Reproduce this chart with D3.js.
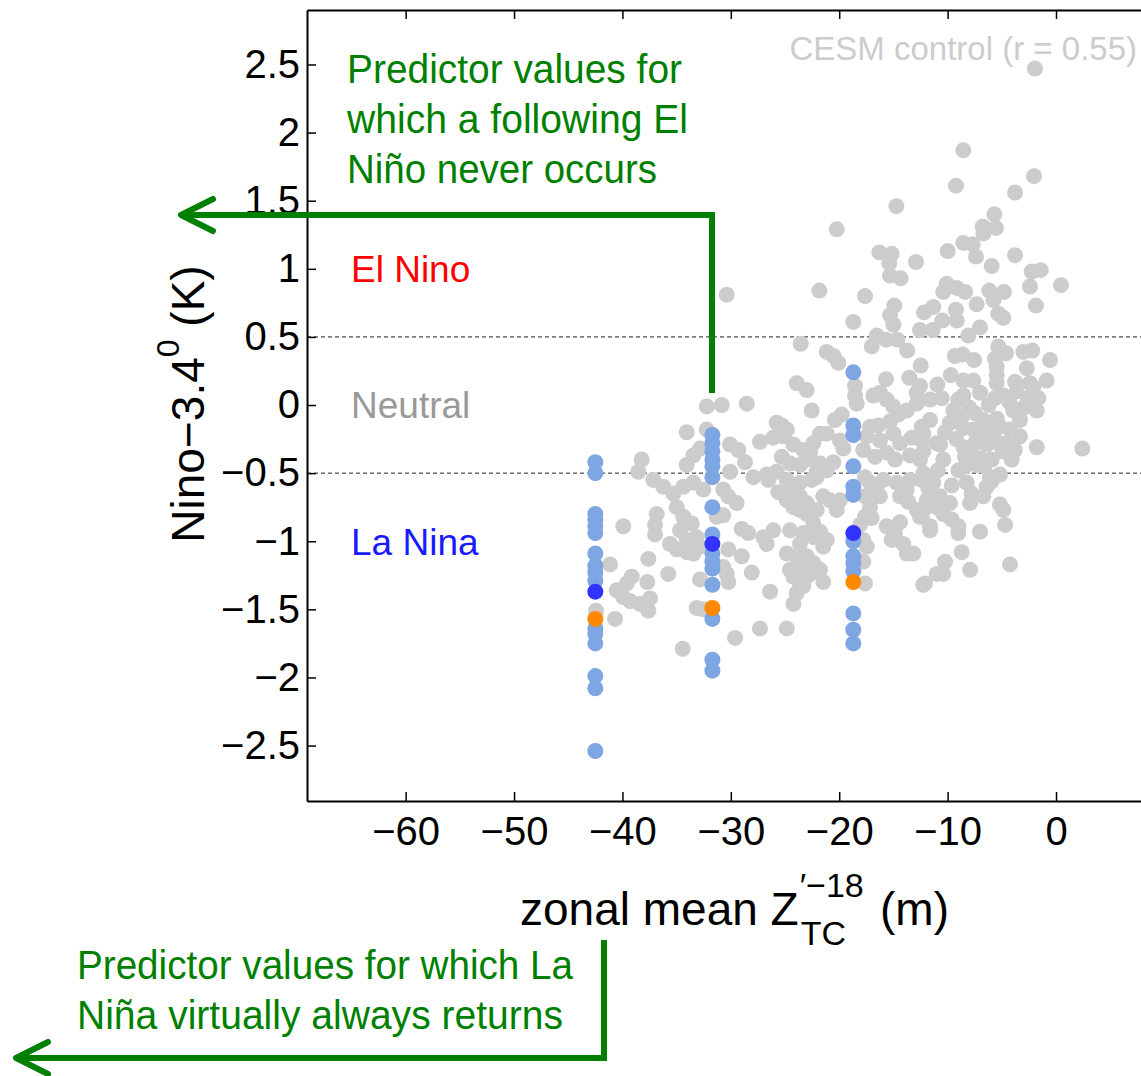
<!DOCTYPE html>
<html>
<head>
<meta charset="utf-8">
<script src="https://cdn.jsdelivr.net/npm/d3@7"></script>
<style>
  html, body { margin: 0; padding: 0; background: #fff; }
  svg { display: block; }
  text { font-family: "Liberation Sans", Arial, Helvetica, sans-serif; }
</style>
</head>
<body>
<svg id="chart" width="1141" height="1076"></svg>
<script>
// ---------------- DATA ----------------
const xTicks = [-60, -50, -40, -30, -20, -10, 0];
const yTicks = [-2.5, -2, -1.5, -1, -0.5, 0, 0.5, 1, 1.5, 2, 2.5];
const thresholds = [0.5, -0.5];

// CESM control run: [zonal mean Z'TC (m), Nino-3.4 (K)]
const controlPoints = [
  [-8.55,1.87],[-2.03,1.68],[-9.23,1.61],[-3.78,1.56],[-14.73,1.46],[-20.23,1.29],[-5.69,1.40],[-6.76,1.31],[-5.54,1.30],[-6.70,1.26],
  [-8.55,1.19],[-7.68,1.18],[-9.99,1.13],[-7.38,1.09],[-3.78,1.10],[-16.30,1.12],[-15.16,1.11],[-15.38,1.04],[-12.92,1.05],[-5.93,1.02],
  [-15.31,0.95],[-14.33,0.93],[-2.24,0.98],[-1.41,0.99],[-2.40,0.87],[0.46,0.88],[-21.83,0.84],[-17.62,0.80],[-10.08,0.89],[-9.16,0.86],
  [-8.39,0.83],[-6.15,0.84],[-4.80,0.83],[-5.78,0.77],[-7.32,0.74],[-14.92,0.73],[-15.31,0.66],[-18.70,0.61],[-11.32,0.72],[-12.18,0.68],
  [-9.23,0.70],[-10.49,0.62],[-9.16,0.62],[-5.32,0.67],[-4.86,0.64],[-1.85,0.73],[-15.01,0.59],[-12.55,0.55],[-11.37,0.55],[-7.01,0.57],
  [-8.09,0.51],[-16.54,0.51],[-15.68,0.48],[-14.64,0.48],[-23.55,0.45],[-17.00,0.43],[-13.72,0.40],[-21.15,0.39],[-20.54,0.36],[-20.08,0.31],
  [-12.48,0.29],[-5.32,0.43],[-4.61,0.38],[-3.01,0.39],[-2.19,0.40],[-0.55,0.33],[-8.61,0.37],[-9.32,0.36],[-7.56,0.33],[-5.63,0.34],
  [-5.47,0.28],[-2.70,0.27],[-15.68,0.19],[-13.53,0.20],[-10.95,0.15],[-9.71,0.22],[-8.55,0.18],[-7.63,0.18],[-0.86,0.18],[-23.92,0.16],
  [-23.00,0.11],[-18.54,0.14],[-12.55,0.14],[-5.47,0.16],[-3.78,0.17],[-2.09,0.13],[-1.94,2.47],[-30.38,0.81],[-10.40,0.83],
  [-16.24,0.09],[-16.85,0.07],[-15.62,0.04],[-15.01,-0.01],[-12.85,0.09],[-18.54,0.07],[-18.39,0.01],
  [-5.47,0.22],[-2.40,0.16],[-1.63,0.05],[-11.62,0.04],[-10.54,0.05],[-9.01,0.04],[-8.55,0.07],[-7.01,0.09],[-5.63,0.05],[-4.86,0.07],
  [-3.63,0.10],[-1.78,-0.04],[-9.47,-0.04],[-8.70,-0.09],[-11.62,-0.11],[-7.47,-0.06],[-6.71,-0.11],[-5.47,-0.10],[-3.94,-0.04],[-3.32,-0.11],
  [-12.39,-0.16],[-10.24,-0.20],[-8.55,-0.17],[-7.63,-0.18],[-6.39,-0.18],[-5.17,-0.16],[-4.24,-0.18],[-3.32,-0.23],[-1.78,-0.31],[2.43,-0.32],
  [-12.39,-0.26],[-10.70,-0.29],[-8.55,-0.31],[-7.47,-0.28],[-6.39,-0.29],[-5.32,-0.28],[-12.24,-0.34],[-10.40,-0.40],[-8.39,-0.38],[-7.01,-0.39],
  [-5.93,-0.40],[-4.09,-0.40],[-8.39,-0.45],[-7.32,-0.44],[-5.17,-0.51],[-6.09,-0.53],[-9.62,-0.59],[-8.24,-0.57],[-12.39,-0.55],[-11.78,-0.61],
  [-6.39,-0.60],[-5.93,-0.56],[-7.78,-0.65],[-7.93,-0.72],[-6.71,-0.67],[-10.70,-0.67],[-9.78,-0.72],[-10.40,-0.80],[-9.62,-0.84],[-11.93,-0.75],
  [-12.39,-0.82],[-11.62,-0.92],[-5.17,-0.73],[-4.86,-0.77],[-4.70,-0.88],[-9.01,-0.89],[-9.01,-0.94],[-7.01,-0.93],[-8.70,-1.08],[-10.24,-1.15],
  [-10.40,-1.24],[-7.93,-1.21],[-4.24,-1.17],[-12.08,-1.31],
  [-8.00,-0.02],[-6.20,0.00],[-4.30,0.02],[-9.80,-0.13],[-7.00,-0.23],[-5.80,-0.22],[-4.60,-0.28],[-9.20,-0.25],[-7.90,-0.34],[-6.60,-0.45],
  [-4.90,-0.34],[-9.00,-0.48],[-3.00,-0.02],[-2.60,0.05],[-3.80,-0.33],[-10.90,-0.48],
  [-22.54,-0.04],[-25.30,-0.15],[-24.84,-0.18],[-20.39,-0.11],[-19.77,-0.07],[-21.77,-0.21],[-22.39,-0.28],[-19.93,-0.26],[-19.62,-0.32],[-17.16,-0.16],
  [-16.39,-0.15],[-15.31,-0.12],[-14.55,-0.07],[-13.77,-0.04],[-12.85,0.01],[-17.46,-0.23],[-16.24,-0.26],[-15.01,-0.21],[-14.39,-0.28],[-13.31,-0.24],
  [-12.24,-0.21],[-11.01,-0.28],[-17.78,-0.33],[-16.70,-0.38],[-15.62,-0.35],[-14.85,-0.40],[-13.47,-0.37],[-12.55,-0.40],[-25.30,-0.38],[-24.54,-0.43],
  [-22.69,-0.35],[-21.77,-0.43],[-20.54,-0.42],[-21.15,-0.48],[-22.08,-0.53],[-24.84,-0.55],[-24.54,-0.60],[-23.62,-0.57],[-22.54,-0.55],[-17.62,-0.53],
  [-17.16,-0.57],[-16.54,-0.60],[-15.93,-0.55],[-14.70,-0.57],[-13.77,-0.62],[-13.47,-0.55],[-12.24,-0.50],[-11.32,-0.57],[-21.47,-0.67],[-20.85,-0.70],
  [-19.93,-0.70],[-22.08,-0.77],[-24.84,-0.70],[-24.23,-0.75],[-23.62,-0.77],[-23.00,-0.72],[-17.62,-0.67],[-16.85,-0.62],[-16.24,-0.67],[-17.16,-0.75],
  [-14.39,-0.67],[-13.63,-0.71],[-12.85,-0.77],[-11.93,-0.70],[-11.01,-0.75],[-17.62,-0.82],[-17.00,-0.83],[-18.08,-0.88],[-14.39,-0.86],[-12.55,-0.82],
  [-11.62,-0.89],[-15.62,-0.89],[-14.85,-0.94],[-15.16,-0.99],[-14.09,-1.02],[-22.39,-0.87],[-21.77,-0.93],[-21.15,-0.99],[-21.47,-1.04],[-22.39,-0.97],
  [-24.54,-0.92],[-23.31,-0.94],[-23.62,-1.02],[-17.78,-0.99],[-17.46,-1.04],[-13.77,-1.09],[-13.16,-1.09],[-24.84,-1.09],[-23.92,-1.11],[-23.00,-1.11],
  [-22.39,-1.16],[-24.54,-1.21],[-23.62,-1.19],[-22.69,-1.24],[-21.77,-1.21],[-17.78,-1.15],[-17.62,-1.31],[-21.47,-1.30],[-23.62,-1.31],[-23.92,-1.38],
  [-23.31,-1.33],[-24.23,-1.46],[-12.24,-1.32],[-11.01,-1.24],
  [-25.16,-0.23],[-24.23,-0.29],[-23.31,-0.33],[-21.15,-0.21],[-23.62,-0.44],[-23.00,-0.40],[-22.08,-0.49],[-23.62,-0.67],[-23.00,-0.80],[-20.23,-0.77],
  [-24.23,-1.26],[-23.00,-1.26],[-24.84,-1.64],
  [-32.22,-0.01],[-30.84,0.00],[-28.53,0.01],[-34.07,-0.20],[-32.22,-0.18],[-25.77,-0.13],[-27.31,-0.27],[-26.08,-0.24],[-30.07,-0.29],[-29.31,-0.33],
  [-28.69,-0.42],[-32.84,-0.32],[-33.46,-0.37],[-34.07,-0.44],[-38.22,-0.40],[-38.53,-0.49],[-30.07,-0.49],[-27.92,-0.53],[-26.69,-0.51],[-25.77,-0.49],
  [-37.15,-0.55],[-36.23,-0.60],[-35.30,-0.65],[-34.38,-0.60],[-33.46,-0.57],[-32.54,-0.62],[-30.69,-0.62],[-30.23,-0.67],[-29.46,-0.72],[-26.54,-0.55],
  [-25.62,-0.64],[-39.92,-0.89],[-36.84,-0.80],[-36.99,-0.88],[-36.99,-0.95],[-34.99,-0.75],[-34.38,-0.82],[-33.61,-0.87],[-34.69,-0.92],[-34.07,-0.99],
  [-33.15,-0.97],[-32.84,-1.04],[-35.61,-1.02],[-34.99,-1.06],[-34.07,-1.08],[-33.46,-1.09],[-31.30,-0.82],[-30.69,-0.81],[-28.99,-0.91],[-28.39,-0.94],
  [-27.00,-0.97],[-26.08,-0.92],[-26.69,-1.02],[-30.23,-1.06],[-28.99,-1.11],[-30.69,-1.19],[-41.14,-1.17],[-37.61,-1.13],[-37.70,-1.30],[-35.77,-1.24],
  [-39.14,-1.26],[-39.60,-1.31],[-40.53,-1.36],[-39.92,-1.41],[-39.30,-1.44],[-38.38,-1.46],[-37.61,-1.51],[-37.45,-1.42],[-40.68,-1.57],[-32.84,-1.28],
  [-30.38,-1.24],[-30.23,-1.30],[-28.07,-1.23],[-26.38,-1.37],[-33.15,-1.49],[-32.54,-1.50],[-27.31,-1.64],[-29.61,-1.71],[-34.44,-1.79],[-42.44,-1.51]
];

// Selected predictor values (three columns)
const columnX = [-42.5, -31.7, -18.7];
const lightBlueY = [
  [-0.42,-0.50,-0.80,-0.84,-0.89,-0.94,-1.09,-1.18,-1.23,-1.29,-1.64,-1.68,-1.75,-1.99,-2.08,-2.54],
  [-0.22,-0.28,-0.34,-0.40,-0.45,-0.53,-0.75,-0.95,-1.09,-1.15,-1.20,-1.32,-1.57,-1.87,-1.95],
  [0.24,-0.15,-0.22,-0.45,-0.60,-0.66,-1.00,-1.11,-1.16,-1.22,-1.53,-1.65,-1.75]
];
const darkBlueY = [-1.37, -1.02, -0.94];
const orangeY = [-1.57, -1.49, -1.30];

// ---------------- CHART ----------------
const svg = d3.select("#chart");
svg.append("rect").attr("width", 1141).attr("height", 1076).attr("fill", "#fff");

const plotLeft = 307, plotTop = 10, plotBottom = 801, plotRight = 1164.4;
const x = d3.scaleLinear().domain([-69.1, 10]).range([plotLeft, plotRight]);
const y = d3.scaleLinear().domain([-2.907, 2.9]).range([plotBottom, plotTop]);
const minus = d => (d < 0 ? "\u2212" : "") + Math.abs(d);

// threshold dashed lines
svg.append("g").selectAll("line").data(thresholds).join("line")
  .attr("x1", plotLeft).attr("x2", 1141)
  .attr("y1", d => y(d)).attr("y2", d => y(d))
  .attr("stroke", "#222").attr("stroke-width", 1).attr("stroke-dasharray", "4,3");

// points
const r = 8;
svg.append("g").selectAll("circle").data(controlPoints).join("circle")
  .attr("cx", d => x(d[0])).attr("cy", d => y(d[1])).attr("r", r).attr("fill", "#cccccc");

const lb = [];
columnX.forEach((cx, i) => lightBlueY[i].forEach(v => lb.push([cx, v])));
svg.append("g").selectAll("circle").data(lb).join("circle")
  .attr("cx", d => x(d[0])).attr("cy", d => y(d[1])).attr("r", r).attr("fill", "#7ea6e2");
svg.append("g").selectAll("circle").data(columnX.map((cx, i) => [cx, darkBlueY[i]])).join("circle")
  .attr("cx", d => x(d[0])).attr("cy", d => y(d[1])).attr("r", r).attr("fill", "#3333ff");
svg.append("g").selectAll("circle").data(columnX.map((cx, i) => [cx, orangeY[i]])).join("circle")
  .attr("cx", d => x(d[0])).attr("cy", d => y(d[1])).attr("r", r).attr("fill", "#ff8800");

// axes
const styleAxis = g => {
  g.select(".domain").attr("stroke", "#000").attr("stroke-width", 2);
  g.selectAll(".tick line").attr("stroke", "#000").attr("stroke-width", 1.5);
  g.selectAll(".tick text").attr("font-size", 40).attr("fill", "#000")
    .attr("font-family", "'Liberation Sans', Arial, sans-serif");
};
svg.append("g").attr("transform", `translate(0,${plotBottom})`)
  .call(d3.axisBottom(x).tickValues(xTicks).tickFormat(minus).tickSizeInner(-9).tickSizeOuter(0).tickPadding(16))
  .call(styleAxis);
svg.append("g").attr("transform", `translate(0,${plotTop})`)
  .call(d3.axisTop(x).tickValues(xTicks).tickFormat("").tickSizeInner(-9).tickSizeOuter(0))
  .call(styleAxis);
svg.append("g").attr("transform", `translate(${plotLeft},0)`)
  .call(d3.axisLeft(y).tickValues(yTicks).tickFormat(minus).tickSizeInner(-9).tickSizeOuter(0).tickPadding(7))
  .call(styleAxis);

// y axis label
const yl = svg.append("text").attr("transform", "translate(204,404) rotate(-90)")
  .attr("text-anchor", "middle").attr("font-size", 46).attr("fill", "#000");
yl.append("tspan").text("Nino\u22123.4");
yl.append("tspan").attr("font-size", 32).attr("dy", -25).text("0");
yl.append("tspan").attr("dy", 25).text(" (K)");

// x axis label
const xl = svg.append("text").attr("x", 520).attr("y", 925).attr("font-size", 46).attr("fill", "#000")
  .text("zonal mean Z");
const zEnd = 520 + xl.node().getComputedTextLength();
svg.append("text").attr("x", zEnd + 1).attr("y", 897).attr("font-size", 34).attr("fill", "#000").text("\u2032\u221218");
svg.append("text").attr("x", zEnd + 2).attr("y", 945).attr("font-size", 34).attr("fill", "#000").text("TC");
svg.append("text").attr("x", 880).attr("y", 925).attr("font-size", 46).attr("fill", "#000").text("(m)");

// in-plot labels
svg.append("text").attr("x", 1137).attr("y", 60).attr("text-anchor", "end")
  .attr("font-size", 33).attr("fill", "#cccccc").text("CESM control (r = 0.55)");
svg.append("text").attr("x", 351).attr("y", 282).attr("font-size", 37).attr("fill", "#ff0000").text("El Nino");
svg.append("text").attr("x", 351).attr("y", 418).attr("font-size", 37).attr("fill", "#999999").text("Neutral");
svg.append("text").attr("x", 351).attr("y", 555).attr("font-size", 37).attr("fill", "#1a1aff").text("La Nina");

// green annotations
const green = "#008000";
const notes = [
  {t: "Predictor values for", x: 347, y: 83, w: 335},
  {t: "which a following El", x: 347, y: 133, w: 341},
  {t: "Ni\u00f1o never occurs", x: 347, y: 183, w: 310},
  {t: "Predictor values for which La", x: 77, y: 979, w: 496},
  {t: "Ni\u00f1a virtually always returns", x: 77, y: 1029, w: 486}
];
svg.append("g").selectAll("text").data(notes).join("text")
  .attr("x", d => d.x).attr("y", d => d.y)
  .attr("font-family", "Lato, 'Open Sans', sans-serif").attr("font-size", 40)
  .attr("fill", green)
  .attr("textLength", d => d.w).attr("lengthAdjust", "spacingAndGlyphs")
  .text(d => d.t);

const arrows = svg.append("g").attr("fill", "none").attr("stroke", green).attr("stroke-width", 6);
arrows.append("path").attr("d", "M712,393 L712,215 L183,215");
arrows.append("path").attr("d", "M213,199 L181,215 L213,231").attr("stroke-linecap", "round").attr("stroke-linejoin", "round");
arrows.append("path").attr("d", "M604,940 L604,1058 L18,1058");
arrows.append("path").attr("d", "M48,1042 L16,1058 L48,1074").attr("stroke-linecap", "round").attr("stroke-linejoin", "round");
</script>
</body>
</html>
